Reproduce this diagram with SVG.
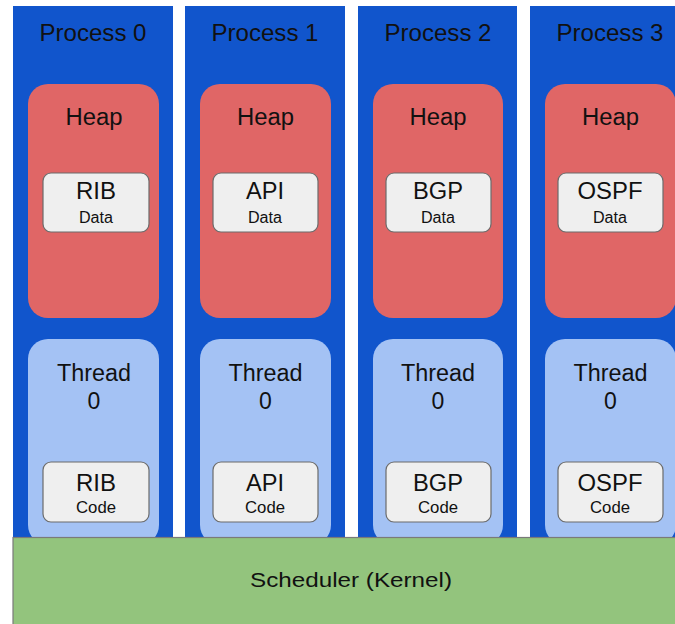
<svg xmlns="http://www.w3.org/2000/svg" width="675" height="624" viewBox="0 0 675 624">
  <style>
    .proc { fill: #1155cc; }
    .heap { fill: #e06666; }
    .thread { fill: #a4c2f4; }
    .seg { fill: #efefef; stroke: #6b6b6b; stroke-width: 1.2; }
    .sched { fill: #93c47d; stroke: #7a7a7a; stroke-width: 1.2; }
    text { font-family: "Liberation Sans", Arial, sans-serif; fill: #111111; text-anchor: middle; }
    .big { font-size: 23px; }
    .small { font-size: 16px; }
  </style>
  <rect width="675" height="624" fill="#ffffff"/>

  <!-- Process 0 -->
  <g id="process0">
    <rect class="proc" x="13" y="6" width="160" height="532"/>
    <text class="big" x="93" y="41" textLength="107" lengthAdjust="spacingAndGlyphs">Process 0</text>
    <g id="heap0">
      <rect class="heap" x="28" y="84" width="131" height="234" rx="20"/>
      <text class="big" x="94" y="125" textLength="57" lengthAdjust="spacingAndGlyphs">Heap</text>
      <rect class="seg" x="43" y="173" width="106" height="59" rx="8"/>
      <text class="big" x="96" y="199" textLength="40" lengthAdjust="spacingAndGlyphs">RIB</text>
      <text class="small" x="96" y="223" textLength="34" lengthAdjust="spacingAndGlyphs">Data</text>
    </g>
    <g id="thread0">
      <rect class="thread" x="28" y="339" width="131" height="206" rx="20"/>
      <text class="big" x="94" y="381" textLength="74" lengthAdjust="spacingAndGlyphs">Thread</text>
      <text class="big" x="94" y="409">0</text>
      <rect class="seg" x="43" y="462" width="106" height="60" rx="8"/>
      <text class="big" x="96" y="491" textLength="40" lengthAdjust="spacingAndGlyphs">RIB</text>
      <text class="small" x="96" y="513" textLength="40" lengthAdjust="spacingAndGlyphs">Code</text>
    </g>
  </g>

  <!-- Process 1 -->
  <g id="process1">
    <rect class="proc" x="185" y="6" width="160" height="532"/>
    <text class="big" x="265" y="41" textLength="107" lengthAdjust="spacingAndGlyphs">Process 1</text>
    <g id="heap1">
      <rect class="heap" x="200" y="84" width="131" height="234" rx="20"/>
      <text class="big" x="265.5" y="125" textLength="57" lengthAdjust="spacingAndGlyphs">Heap</text>
      <rect class="seg" x="213" y="173" width="105" height="59" rx="8"/>
      <text class="big" x="265" y="199" textLength="38" lengthAdjust="spacingAndGlyphs">API</text>
      <text class="small" x="265" y="223" textLength="34" lengthAdjust="spacingAndGlyphs">Data</text>
    </g>
    <g id="thread1">
      <rect class="thread" x="200" y="339" width="131" height="206" rx="20"/>
      <text class="big" x="265.5" y="381" textLength="74" lengthAdjust="spacingAndGlyphs">Thread</text>
      <text class="big" x="265.5" y="409">0</text>
      <rect class="seg" x="213" y="462" width="105" height="60" rx="8"/>
      <text class="big" x="265" y="491" textLength="38" lengthAdjust="spacingAndGlyphs">API</text>
      <text class="small" x="265" y="513" textLength="40" lengthAdjust="spacingAndGlyphs">Code</text>
    </g>
  </g>

  <!-- Process 2 -->
  <g id="process2">
    <rect class="proc" x="358" y="6" width="159" height="532"/>
    <text class="big" x="438" y="41" textLength="107" lengthAdjust="spacingAndGlyphs">Process 2</text>
    <g id="heap2">
      <rect class="heap" x="373" y="84" width="130" height="234" rx="20"/>
      <text class="big" x="438" y="125" textLength="57" lengthAdjust="spacingAndGlyphs">Heap</text>
      <rect class="seg" x="386" y="173" width="105" height="59" rx="8"/>
      <text class="big" x="438" y="199" textLength="50" lengthAdjust="spacingAndGlyphs">BGP</text>
      <text class="small" x="438" y="223" textLength="34" lengthAdjust="spacingAndGlyphs">Data</text>
    </g>
    <g id="thread2">
      <rect class="thread" x="373" y="339" width="130" height="206" rx="20"/>
      <text class="big" x="438" y="381" textLength="74" lengthAdjust="spacingAndGlyphs">Thread</text>
      <text class="big" x="438" y="409">0</text>
      <rect class="seg" x="386" y="462" width="105" height="60" rx="8"/>
      <text class="big" x="438" y="491" textLength="50" lengthAdjust="spacingAndGlyphs">BGP</text>
      <text class="small" x="438" y="513" textLength="40" lengthAdjust="spacingAndGlyphs">Code</text>
    </g>
  </g>

  <!-- Process 3 -->
  <g id="process3">
    <rect class="proc" x="530" y="6" width="160" height="532"/>
    <text class="big" x="610" y="41" textLength="107" lengthAdjust="spacingAndGlyphs">Process 3</text>
    <g id="heap3">
      <rect class="heap" x="545" y="84" width="131" height="234" rx="20"/>
      <text class="big" x="610.5" y="125" textLength="57" lengthAdjust="spacingAndGlyphs">Heap</text>
      <rect class="seg" x="558" y="173" width="105" height="59" rx="8"/>
      <text class="big" x="610" y="199" textLength="65" lengthAdjust="spacingAndGlyphs">OSPF</text>
      <text class="small" x="610" y="223" textLength="34" lengthAdjust="spacingAndGlyphs">Data</text>
    </g>
    <g id="thread3">
      <rect class="thread" x="545" y="339" width="131" height="206" rx="20"/>
      <text class="big" x="610.5" y="381" textLength="74" lengthAdjust="spacingAndGlyphs">Thread</text>
      <text class="big" x="610.5" y="409">0</text>
      <rect class="seg" x="558" y="462" width="105" height="60" rx="8"/>
      <text class="big" x="610" y="491" textLength="65" lengthAdjust="spacingAndGlyphs">OSPF</text>
      <text class="small" x="610" y="513" textLength="40" lengthAdjust="spacingAndGlyphs">Code</text>
    </g>
  </g>

  <!-- Kernel scheduler band -->
  <g id="scheduler">
    <rect class="sched" x="13" y="537.5" width="680" height="100"/>
    <text x="351" y="587" style="font-size:21px" textLength="202" lengthAdjust="spacingAndGlyphs">Scheduler (Kernel)</text>
  </g>

  <g id="connectors"/>
</svg>
